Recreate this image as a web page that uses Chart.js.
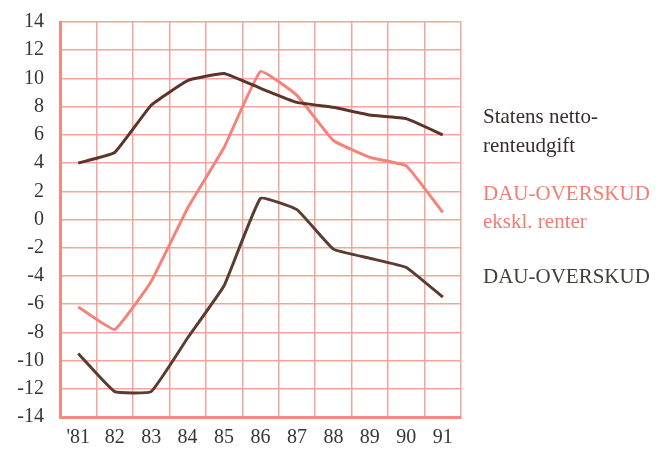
<!DOCTYPE html>
<html>
<head>
<meta charset="utf-8">
<script src="https://cdn.jsdelivr.net/npm/chart.js@4/dist/chart.umd.min.js"></script>
<style>
html,body{margin:0;padding:0;background:#fff;}
#wrap{width:667px;height:455px;position:relative;}
</style>
</head>
<body>
<div id="wrap"><canvas id="c" width="667" height="455"></canvas></div>
<script>
const years = ["'81","82","83","84","85","86","87","88","89","90","91"];
const statensNettoRenteudgift = [4.0, 4.75, 8.1, 9.85, 10.35, 9.3, 8.3, 7.95, 7.4, 7.15, 6.0];
const dauOverskudEksklRenter = [-6.2, -7.8, -4.4, 0.8, 5.1, 10.5, 8.8, 5.6, 4.4, 3.8, 0.5];
const dauOverskud = [-9.5, -12.2, -12.2, -8.4, -4.7, 1.5, 0.7, -2.1, -2.75, -3.4, -5.5];
const yTicks = [14,12,10,8,6,4,2,0,-2,-4,-6,-8,-10,-12,-14];
const legendLines = [
  {text:"Statens netto-", color:"#3a2c2c", y:117},
  {text:"renteudgift", color:"#3a2c2c", y:146},
  {text:"DAU-OVERSKUD", color:"#f47c70", y:194},
  {text:"ekskl. renter", color:"#f47c70", y:222},
  {text:"DAU-OVERSKUD", color:"#3e4038", y:277}
];

const legendPlugin = {
  id:'sideLegend',
  afterDraw(chart){
    const ctx = chart.ctx;
    ctx.save();
    ctx.textBaseline = 'middle';
    ctx.textAlign = 'left';
    legendLines.forEach(l=>{
      ctx.font = '21px "Liberation Serif", "Times New Roman", serif';
      ctx.fillStyle = l.color;
      ctx.fillText(l.text, 483, l.y);
    });
    ctx.restore();
  }
};

new Chart(document.getElementById('c'), {
  type:'line',
  data:{
    labels: years,
    datasets:[
      {label:'Statens nettorenteudgift', data: statensNettoRenteudgift, borderColor:'#5c3429', borderWidth:3, pointRadius:0, tension:0.1, fill:false},
      {label:'DAU-OVERSKUD ekskl. renter', data: dauOverskudEksklRenter, borderColor:'#f5837a', borderWidth:3, pointRadius:0, tension:0.1, fill:false},
      {label:'DAU-OVERSKUD', data: dauOverskud, borderColor:'#5a3d30', borderWidth:3, pointRadius:0, tension:0.1, fill:false}
    ]
  },
  options:{
    responsive:false,
    animation:false,
    layout:{padding:{left:0,right:206,top:22,bottom:0}},
    plugins:{legend:{display:false},tooltip:{enabled:false}},
    scales:{
      x:{
        offset:true,
        grid:{offset:true,color:'#f6a49a',lineWidth:1.5,drawTicks:false},
        border:{color:'#f48a80',width:3},
        ticks:{color:'#34363a',font:{family:'"Liberation Serif", serif',size:20},padding:9,maxRotation:0,autoSkip:false},
        afterFit(scale){scale.height = 38;}
      },
      y:{
        min:-14,max:14,
        afterBuildTicks(scale){scale.ticks = yTicks.map(v=>({value:v}));},
        grid:{color:'#f6a49a',lineWidth:1.5,drawTicks:false},
        border:{color:'#f48a80',width:3},
        ticks:{color:'#34363a',font:{family:'"Liberation Serif", serif',size:20},padding:16},
        afterFit(scale){scale.width = 60; scale.paddingTop = 0; scale.paddingBottom = 0;}
      }
    }
  },
  plugins:[legendPlugin]
});
</script>
</body>
</html>
